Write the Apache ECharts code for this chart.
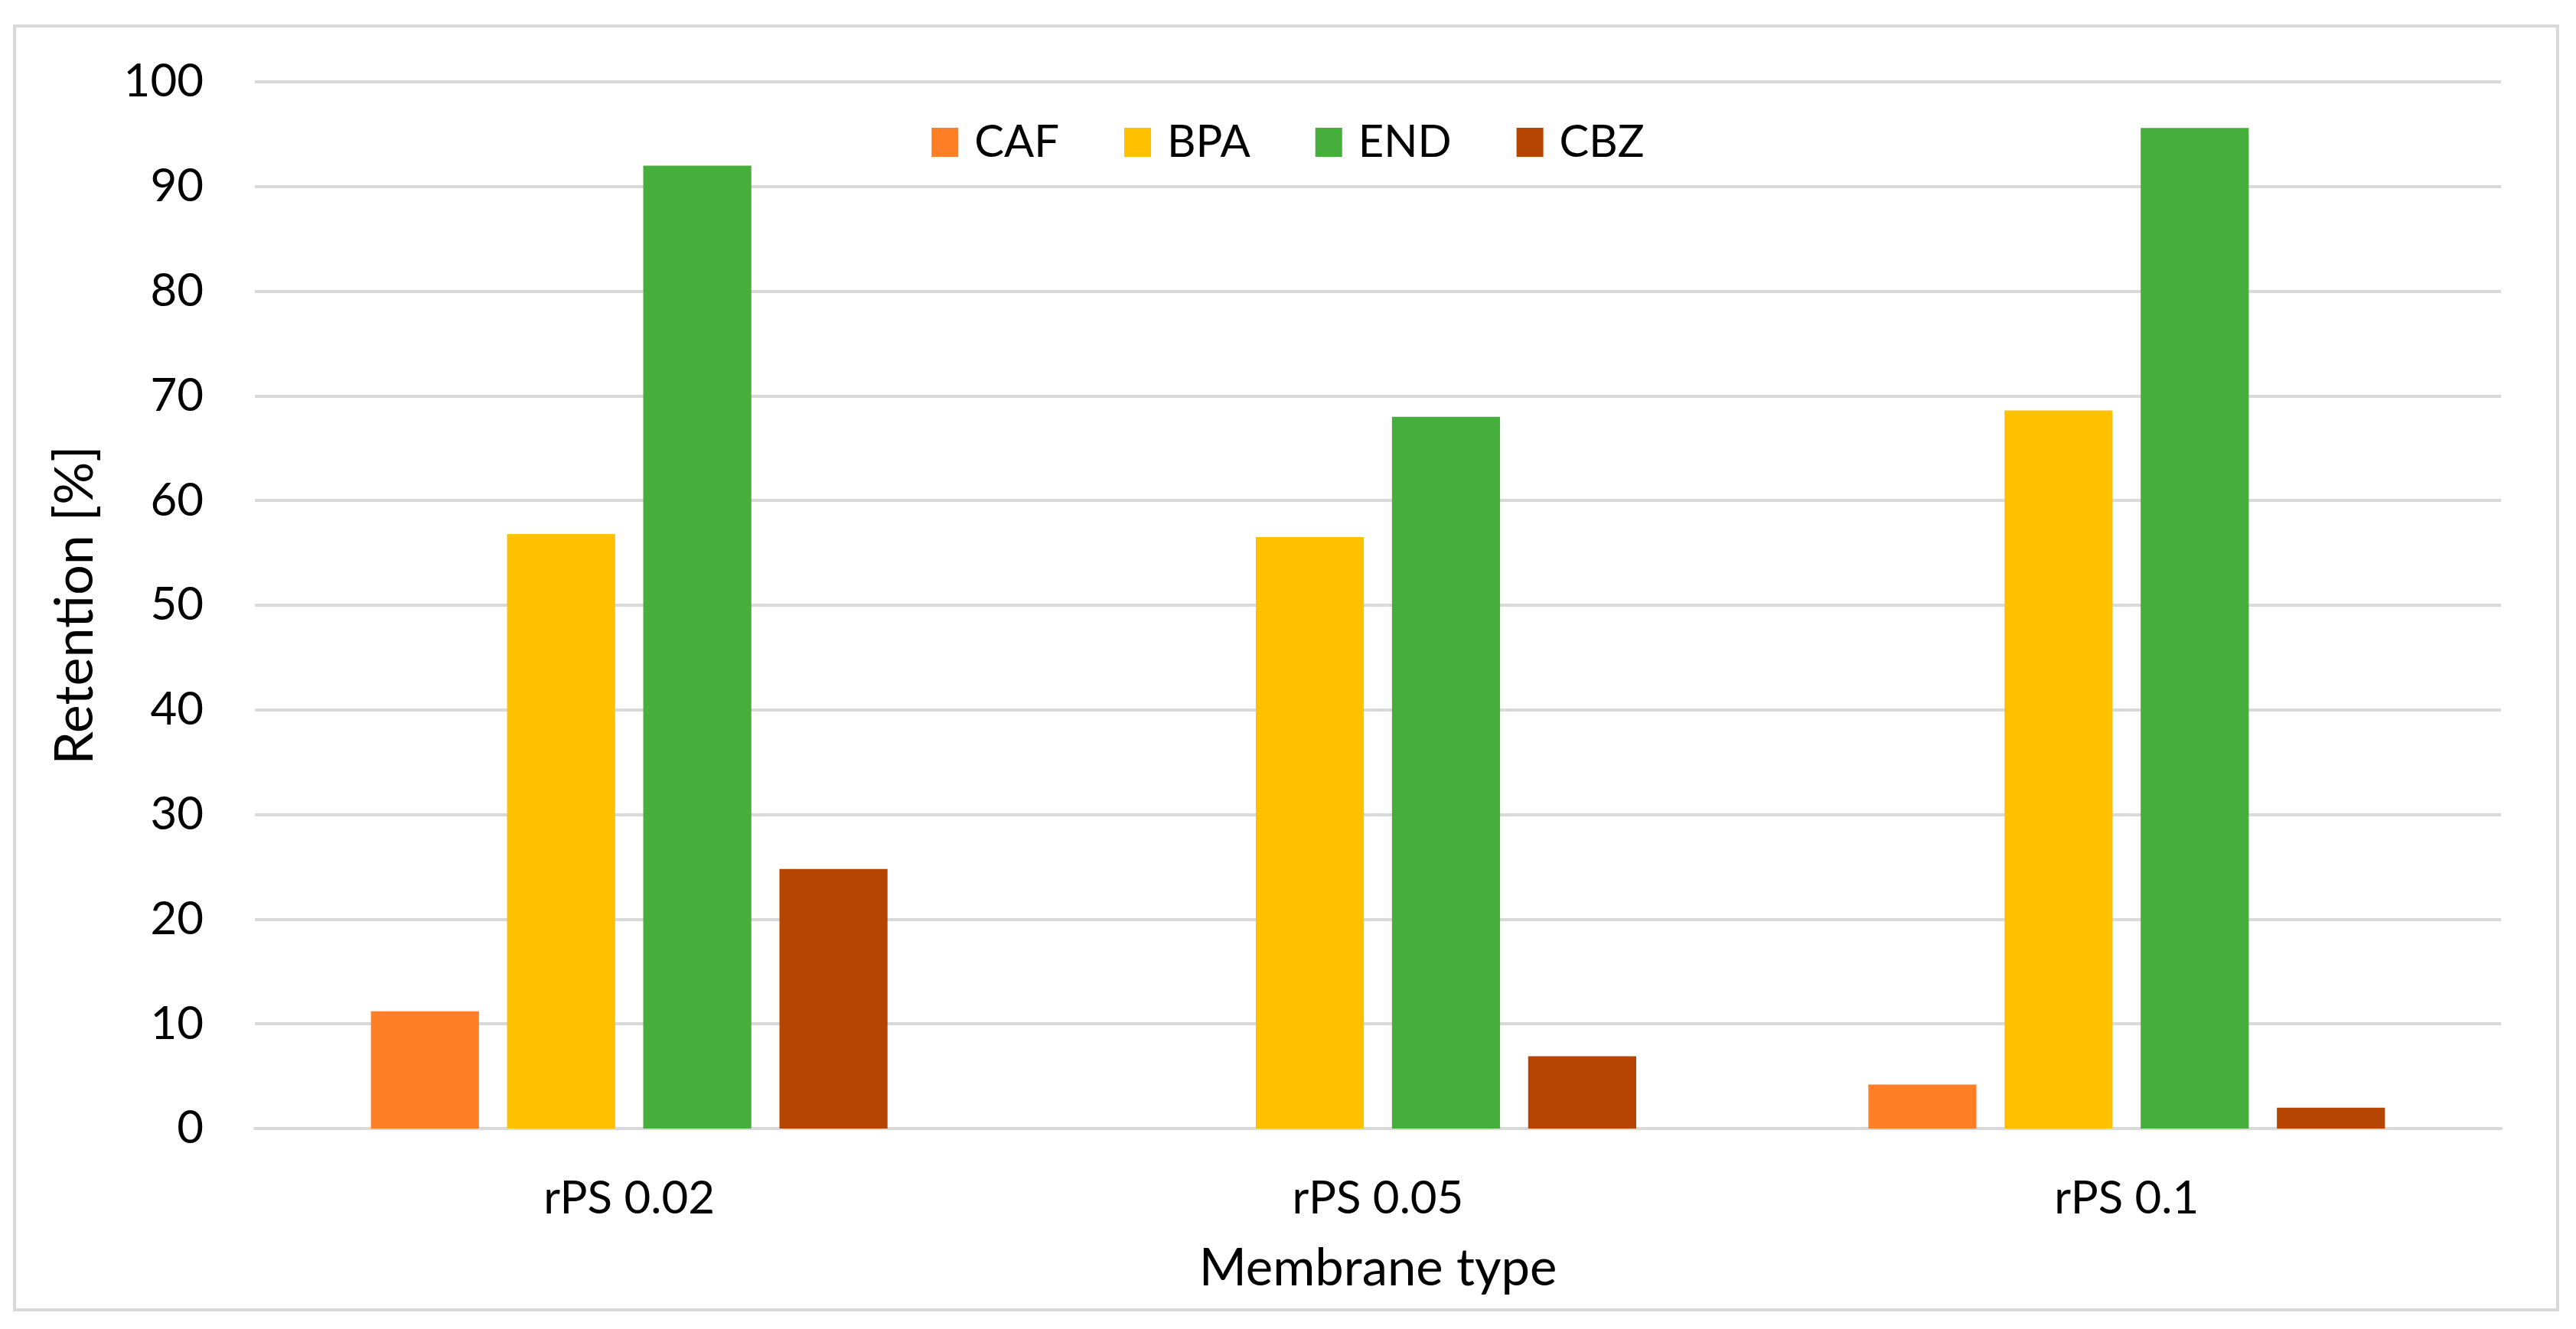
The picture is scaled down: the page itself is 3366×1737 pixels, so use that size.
<!DOCTYPE html>
<html>
<head>
<meta charset="utf-8">
<script src="https://cdn.jsdelivr.net/npm/echarts@6/dist/echarts.min.js"></script>
<style>
html,body{margin:0;padding:0;background:#fff;}
#wrap{position:absolute;left:17px;top:32px;width:3327px;height:1682px;border:4px solid #D9D9D9;box-sizing:border-box;}
#chart{position:absolute;left:0;top:0;width:3366px;height:1737px;}
</style>
</head>
<body>
<div id="wrap"></div>
<div id="chart"></div>
<script>
const categories = ['rPS 0.02', 'rPS 0.05', 'rPS 0.1'];
const seriesNames = ['CAF', 'BPA', 'END', 'CBZ'];
const CAF = [11.2, 0, 4.2];
const BPA = [56.8, 56.5, 68.6];
const END = [92.0, 68.0, 95.6];
const CBZ = [24.8, 6.9, 2.0];
const yTicks = [0, 10, 20, 30, 40, 50, 60, 70, 80, 90, 100];
const colors = ['#FF7F27', '#FFC000', '#46AE3B', '#B64501'];

const values = [CAF, BPA, END, CBZ];
const font = 'Lato, "Open Sans", sans-serif';

const chart = echarts.init(document.getElementById('chart'), null, {renderer: 'canvas'});
chart.setOption({
  animation: false,
  backgroundColor: 'transparent',
  color: colors,
  legend: {
    top: 152,
    left: 'center',
    itemWidth: 35,
    itemHeight: 38,
    itemGap: 85,
    icon: 'rect',
    textStyle: {fontFamily: font, fontSize: 58, color: '#000', padding: [0, 0, 0, 16]},
    data: seriesNames
  },
  grid: {left: 333, right: 98, top: 107, bottom: 262, containLabel: false},
  xAxis: {
    type: 'category',
    data: categories,
    name: 'Membrane type',
    nameLocation: 'middle',
    nameGap: 150,
    nameTextStyle: {fontFamily: font, fontSize: 67, color: '#000'},
    axisLine: {show: true, lineStyle: {color: '#D9D9D9', width: 4}},
    axisTick: {show: false},
    axisLabel: {fontFamily: font, fontSize: 60, color: '#000', margin: 62}
  },
  yAxis: {
    type: 'value',
    min: yTicks[0],
    max: yTicks[yTicks.length - 1],
    interval: 10,
    name: 'Retention [%]',
    nameLocation: 'middle',
    nameGap: 200,
    nameRotate: 90,
    nameTextStyle: {fontFamily: font, fontSize: 70, color: '#000'},
    axisLine: {show: false},
    axisTick: {show: false},
    splitLine: {show: true, lineStyle: {color: '#D9D9D9', width: 4}},
    axisLabel: {fontFamily: font, fontSize: 60, color: '#000', margin: 67}
  },
  series: seriesNames.map((n, i) => ({
    name: n,
    type: 'bar',
    data: values[i],
    barGap: '26%',
    barCategoryGap: '31%',
    itemStyle: {color: colors[i]}
  }))
});
</script>
</body>
</html>
